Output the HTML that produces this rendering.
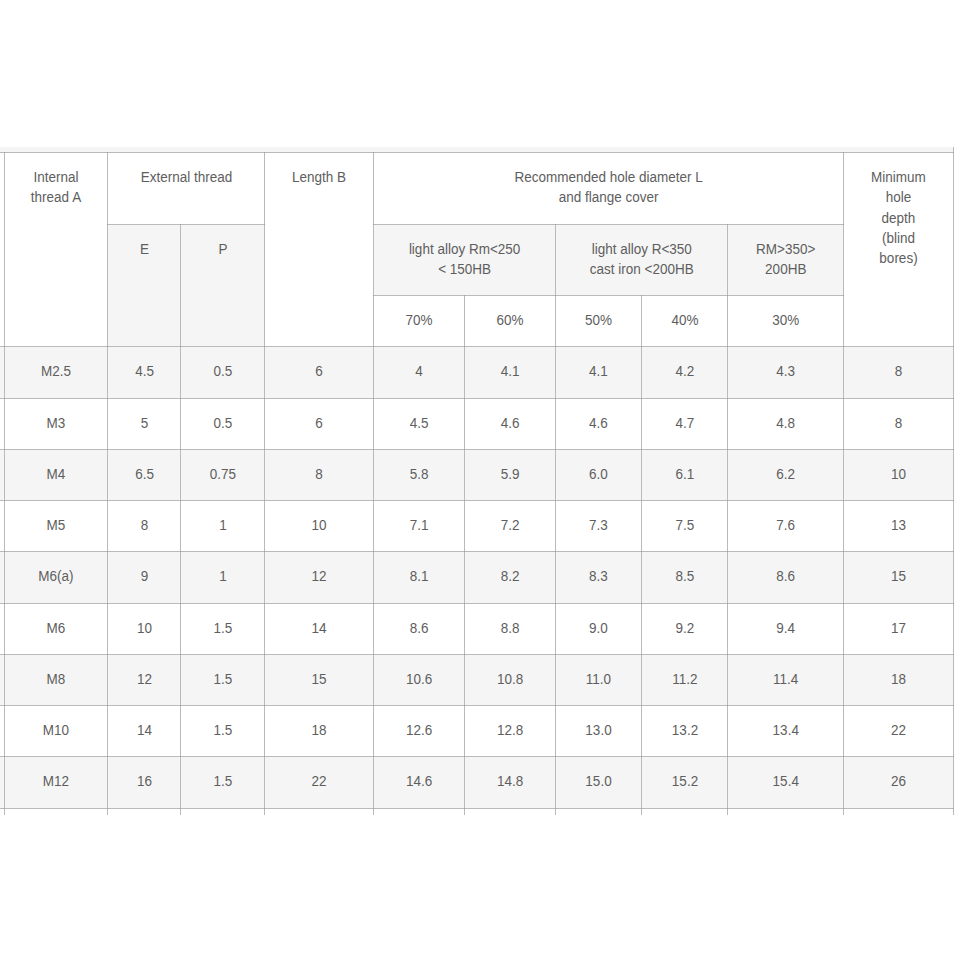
<!DOCTYPE html>
<html><head><meta charset="utf-8"><title>Thread insert dimensions</title>
<style>
html,body{margin:0;padding:0;background:#fff;}
body{width:962px;height:962px;overflow:hidden;position:relative;font-family:"Liberation Sans",sans-serif;font-size:13.5px;line-height:20.25px;color:#5e5e5e;}
.b{position:absolute;}
.h{position:absolute;height:1px;background:rgba(151,151,151,0.662);}
.v{position:absolute;width:1px;background:rgba(151,151,151,0.662);}
.t{position:absolute;text-align:center;white-space:nowrap;line-height:20px;height:20px;transform:scaleY(1.035);transform-origin:0 14px;}
</style></head><body>

<div class="b" style="left:0;top:147px;width:953px;height:5px;background:#f5f5f5"></div>
<div class="b" style="left:108px;top:225px;width:72px;height:121px;background:#f5f5f5"></div>
<div class="b" style="left:181px;top:225px;width:83px;height:121px;background:#f5f5f5"></div>
<div class="b" style="left:374px;top:225px;width:181px;height:70px;background:#f5f5f5"></div>
<div class="b" style="left:556px;top:225px;width:171px;height:70px;background:#f5f5f5"></div>
<div class="b" style="left:728px;top:225px;width:115px;height:70px;background:#f5f5f5"></div>
<div class="b" style="left:5px;top:347px;width:102px;height:51px;background:#f5f5f5"></div>
<div class="b" style="left:108px;top:347px;width:72px;height:51px;background:#f5f5f5"></div>
<div class="b" style="left:181px;top:347px;width:83px;height:51px;background:#f5f5f5"></div>
<div class="b" style="left:265px;top:347px;width:108px;height:51px;background:#f5f5f5"></div>
<div class="b" style="left:374px;top:347px;width:90px;height:51px;background:#f5f5f5"></div>
<div class="b" style="left:465px;top:347px;width:90px;height:51px;background:#f5f5f5"></div>
<div class="b" style="left:556px;top:347px;width:85px;height:51px;background:#f5f5f5"></div>
<div class="b" style="left:642px;top:347px;width:85px;height:51px;background:#f5f5f5"></div>
<div class="b" style="left:728px;top:347px;width:115px;height:51px;background:#f5f5f5"></div>
<div class="b" style="left:844px;top:347px;width:109px;height:51px;background:#f5f5f5"></div>
<div class="b" style="left:5px;top:450px;width:102px;height:50px;background:#f5f5f5"></div>
<div class="b" style="left:108px;top:450px;width:72px;height:50px;background:#f5f5f5"></div>
<div class="b" style="left:181px;top:450px;width:83px;height:50px;background:#f5f5f5"></div>
<div class="b" style="left:265px;top:450px;width:108px;height:50px;background:#f5f5f5"></div>
<div class="b" style="left:374px;top:450px;width:90px;height:50px;background:#f5f5f5"></div>
<div class="b" style="left:465px;top:450px;width:90px;height:50px;background:#f5f5f5"></div>
<div class="b" style="left:556px;top:450px;width:85px;height:50px;background:#f5f5f5"></div>
<div class="b" style="left:642px;top:450px;width:85px;height:50px;background:#f5f5f5"></div>
<div class="b" style="left:728px;top:450px;width:115px;height:50px;background:#f5f5f5"></div>
<div class="b" style="left:844px;top:450px;width:109px;height:50px;background:#f5f5f5"></div>
<div class="b" style="left:5px;top:552px;width:102px;height:51px;background:#f5f5f5"></div>
<div class="b" style="left:108px;top:552px;width:72px;height:51px;background:#f5f5f5"></div>
<div class="b" style="left:181px;top:552px;width:83px;height:51px;background:#f5f5f5"></div>
<div class="b" style="left:265px;top:552px;width:108px;height:51px;background:#f5f5f5"></div>
<div class="b" style="left:374px;top:552px;width:90px;height:51px;background:#f5f5f5"></div>
<div class="b" style="left:465px;top:552px;width:90px;height:51px;background:#f5f5f5"></div>
<div class="b" style="left:556px;top:552px;width:85px;height:51px;background:#f5f5f5"></div>
<div class="b" style="left:642px;top:552px;width:85px;height:51px;background:#f5f5f5"></div>
<div class="b" style="left:728px;top:552px;width:115px;height:51px;background:#f5f5f5"></div>
<div class="b" style="left:844px;top:552px;width:109px;height:51px;background:#f5f5f5"></div>
<div class="b" style="left:5px;top:655px;width:102px;height:50px;background:#f5f5f5"></div>
<div class="b" style="left:108px;top:655px;width:72px;height:50px;background:#f5f5f5"></div>
<div class="b" style="left:181px;top:655px;width:83px;height:50px;background:#f5f5f5"></div>
<div class="b" style="left:265px;top:655px;width:108px;height:50px;background:#f5f5f5"></div>
<div class="b" style="left:374px;top:655px;width:90px;height:50px;background:#f5f5f5"></div>
<div class="b" style="left:465px;top:655px;width:90px;height:50px;background:#f5f5f5"></div>
<div class="b" style="left:556px;top:655px;width:85px;height:50px;background:#f5f5f5"></div>
<div class="b" style="left:642px;top:655px;width:85px;height:50px;background:#f5f5f5"></div>
<div class="b" style="left:728px;top:655px;width:115px;height:50px;background:#f5f5f5"></div>
<div class="b" style="left:844px;top:655px;width:109px;height:50px;background:#f5f5f5"></div>
<div class="b" style="left:5px;top:757px;width:102px;height:51px;background:#f5f5f5"></div>
<div class="b" style="left:108px;top:757px;width:72px;height:51px;background:#f5f5f5"></div>
<div class="b" style="left:181px;top:757px;width:83px;height:51px;background:#f5f5f5"></div>
<div class="b" style="left:265px;top:757px;width:108px;height:51px;background:#f5f5f5"></div>
<div class="b" style="left:374px;top:757px;width:90px;height:51px;background:#f5f5f5"></div>
<div class="b" style="left:465px;top:757px;width:90px;height:51px;background:#f5f5f5"></div>
<div class="b" style="left:556px;top:757px;width:85px;height:51px;background:#f5f5f5"></div>
<div class="b" style="left:642px;top:757px;width:85px;height:51px;background:#f5f5f5"></div>
<div class="b" style="left:728px;top:757px;width:115px;height:51px;background:#f5f5f5"></div>
<div class="b" style="left:844px;top:757px;width:109px;height:51px;background:#f5f5f5"></div>
<div class="b" style="left:0;top:347px;width:4px;height:51px;background:#f5f5f5"></div>
<div class="b" style="left:0;top:450px;width:4px;height:50px;background:#f5f5f5"></div>
<div class="b" style="left:0;top:552px;width:4px;height:51px;background:#f5f5f5"></div>
<div class="b" style="left:0;top:655px;width:4px;height:50px;background:#f5f5f5"></div>
<div class="b" style="left:0;top:757px;width:4px;height:51px;background:#f5f5f5"></div>
<div class="h" style="left:0px;top:152px;width:954px"></div>
<div class="h" style="left:107px;top:224px;width:158px"></div>
<div class="h" style="left:373px;top:224px;width:471px"></div>
<div class="h" style="left:373px;top:295px;width:471px"></div>
<div class="h" style="left:0px;top:346px;width:954px"></div>
<div class="h" style="left:0px;top:398px;width:954px"></div>
<div class="h" style="left:0px;top:449px;width:954px"></div>
<div class="h" style="left:0px;top:500px;width:954px"></div>
<div class="h" style="left:0px;top:551px;width:954px"></div>
<div class="h" style="left:0px;top:603px;width:954px"></div>
<div class="h" style="left:0px;top:654px;width:954px"></div>
<div class="h" style="left:0px;top:705px;width:954px"></div>
<div class="h" style="left:0px;top:756px;width:954px"></div>
<div class="h" style="left:0px;top:808px;width:954px"></div>
<div class="v" style="left:4px;top:152px;height:663px"></div>
<div class="v" style="left:107px;top:152px;height:663px"></div>
<div class="v" style="left:180px;top:224px;height:591px"></div>
<div class="v" style="left:264px;top:152px;height:663px"></div>
<div class="v" style="left:373px;top:152px;height:663px"></div>
<div class="v" style="left:464px;top:295px;height:520px"></div>
<div class="v" style="left:555px;top:224px;height:591px"></div>
<div class="v" style="left:641px;top:295px;height:520px"></div>
<div class="v" style="left:727px;top:224px;height:591px"></div>
<div class="v" style="left:843px;top:152px;height:663px"></div>
<div class="v" style="left:953px;top:147px;height:668px"></div>
<div class="t" style="left:5px;top:168px;width:102px">Internal</div>
<div class="t" style="left:5px;top:188px;width:102px">thread A</div>
<div class="t" style="left:108.5px;top:168px;width:156px">External thread</div>
<div class="t" style="left:265px;top:168px;width:108px">Length B</div>
<div class="t" style="left:374.19px;top:168px;width:469px">Recommended hole diameter L</div>
<div class="t" style="left:374.19px;top:188px;width:469px">and flange cover</div>
<div class="t" style="left:844px;top:168px;width:109px">Minimum</div>
<div class="t" style="left:844px;top:188px;width:109px">hole</div>
<div class="t" style="left:844px;top:209px;width:109px">depth</div>
<div class="t" style="left:844px;top:229px;width:109px">(blind</div>
<div class="t" style="left:844px;top:249px;width:109px">bores)</div>
<div class="t" style="left:108.6px;top:240px;width:72px">E</div>
<div class="t" style="left:181.4px;top:240px;width:83px">P</div>
<div class="t" style="left:374.1px;top:240px;width:181px">light alloy Rm&lt;250</div>
<div class="t" style="left:374.1px;top:260px;width:181px">&lt; 150HB</div>
<div class="t" style="left:556.25px;top:240px;width:171px">light alloy R&lt;350</div>
<div class="t" style="left:556.25px;top:260px;width:171px">cast iron &lt;200HB</div>
<div class="t" style="left:728.25px;top:240px;width:115px">RM&gt;350&gt;</div>
<div class="t" style="left:728.25px;top:260px;width:115px">200HB</div>
<div class="t" style="left:374.1px;top:311px;width:90px">70%</div>
<div class="t" style="left:465.1px;top:311px;width:90px">60%</div>
<div class="t" style="left:556px;top:311px;width:85px">50%</div>
<div class="t" style="left:642.5px;top:311px;width:85px">40%</div>
<div class="t" style="left:728.25px;top:311px;width:115px">30%</div>
<div class="t" style="left:5px;top:362px;width:102px">M2.5</div>
<div class="t" style="left:108.6px;top:362px;width:72px">4.5</div>
<div class="t" style="left:181.4px;top:362px;width:83px">0.5</div>
<div class="t" style="left:265px;top:362px;width:108px">6</div>
<div class="t" style="left:374.1px;top:362px;width:90px">4</div>
<div class="t" style="left:465.1px;top:362px;width:90px">4.1</div>
<div class="t" style="left:556px;top:362px;width:85px">4.1</div>
<div class="t" style="left:642.5px;top:362px;width:85px">4.2</div>
<div class="t" style="left:728.25px;top:362px;width:115px">4.3</div>
<div class="t" style="left:844px;top:362px;width:109px">8</div>
<div class="t" style="left:5px;top:414px;width:102px">M3</div>
<div class="t" style="left:108.6px;top:414px;width:72px">5</div>
<div class="t" style="left:181.4px;top:414px;width:83px">0.5</div>
<div class="t" style="left:265px;top:414px;width:108px">6</div>
<div class="t" style="left:374.1px;top:414px;width:90px">4.5</div>
<div class="t" style="left:465.1px;top:414px;width:90px">4.6</div>
<div class="t" style="left:556px;top:414px;width:85px">4.6</div>
<div class="t" style="left:642.5px;top:414px;width:85px">4.7</div>
<div class="t" style="left:728.25px;top:414px;width:115px">4.8</div>
<div class="t" style="left:844px;top:414px;width:109px">8</div>
<div class="t" style="left:5px;top:465px;width:102px">M4</div>
<div class="t" style="left:108.6px;top:465px;width:72px">6.5</div>
<div class="t" style="left:181.4px;top:465px;width:83px">0.75</div>
<div class="t" style="left:265px;top:465px;width:108px">8</div>
<div class="t" style="left:374.1px;top:465px;width:90px">5.8</div>
<div class="t" style="left:465.1px;top:465px;width:90px">5.9</div>
<div class="t" style="left:556px;top:465px;width:85px">6.0</div>
<div class="t" style="left:642.5px;top:465px;width:85px">6.1</div>
<div class="t" style="left:728.25px;top:465px;width:115px">6.2</div>
<div class="t" style="left:844px;top:465px;width:109px">10</div>
<div class="t" style="left:5px;top:516px;width:102px">M5</div>
<div class="t" style="left:108.6px;top:516px;width:72px">8</div>
<div class="t" style="left:181.4px;top:516px;width:83px">1</div>
<div class="t" style="left:265px;top:516px;width:108px">10</div>
<div class="t" style="left:374.1px;top:516px;width:90px">7.1</div>
<div class="t" style="left:465.1px;top:516px;width:90px">7.2</div>
<div class="t" style="left:556px;top:516px;width:85px">7.3</div>
<div class="t" style="left:642.5px;top:516px;width:85px">7.5</div>
<div class="t" style="left:728.25px;top:516px;width:115px">7.6</div>
<div class="t" style="left:844px;top:516px;width:109px">13</div>
<div class="t" style="left:5px;top:567px;width:102px">M6(a)</div>
<div class="t" style="left:108.6px;top:567px;width:72px">9</div>
<div class="t" style="left:181.4px;top:567px;width:83px">1</div>
<div class="t" style="left:265px;top:567px;width:108px">12</div>
<div class="t" style="left:374.1px;top:567px;width:90px">8.1</div>
<div class="t" style="left:465.1px;top:567px;width:90px">8.2</div>
<div class="t" style="left:556px;top:567px;width:85px">8.3</div>
<div class="t" style="left:642.5px;top:567px;width:85px">8.5</div>
<div class="t" style="left:728.25px;top:567px;width:115px">8.6</div>
<div class="t" style="left:844px;top:567px;width:109px">15</div>
<div class="t" style="left:5px;top:619px;width:102px">M6</div>
<div class="t" style="left:108.6px;top:619px;width:72px">10</div>
<div class="t" style="left:181.4px;top:619px;width:83px">1.5</div>
<div class="t" style="left:265px;top:619px;width:108px">14</div>
<div class="t" style="left:374.1px;top:619px;width:90px">8.6</div>
<div class="t" style="left:465.1px;top:619px;width:90px">8.8</div>
<div class="t" style="left:556px;top:619px;width:85px">9.0</div>
<div class="t" style="left:642.5px;top:619px;width:85px">9.2</div>
<div class="t" style="left:728.25px;top:619px;width:115px">9.4</div>
<div class="t" style="left:844px;top:619px;width:109px">17</div>
<div class="t" style="left:5px;top:670px;width:102px">M8</div>
<div class="t" style="left:108.6px;top:670px;width:72px">12</div>
<div class="t" style="left:181.4px;top:670px;width:83px">1.5</div>
<div class="t" style="left:265px;top:670px;width:108px">15</div>
<div class="t" style="left:374.1px;top:670px;width:90px">10.6</div>
<div class="t" style="left:465.1px;top:670px;width:90px">10.8</div>
<div class="t" style="left:556px;top:670px;width:85px">11.0</div>
<div class="t" style="left:642.5px;top:670px;width:85px">11.2</div>
<div class="t" style="left:728.25px;top:670px;width:115px">11.4</div>
<div class="t" style="left:844px;top:670px;width:109px">18</div>
<div class="t" style="left:5px;top:721px;width:102px">M10</div>
<div class="t" style="left:108.6px;top:721px;width:72px">14</div>
<div class="t" style="left:181.4px;top:721px;width:83px">1.5</div>
<div class="t" style="left:265px;top:721px;width:108px">18</div>
<div class="t" style="left:374.1px;top:721px;width:90px">12.6</div>
<div class="t" style="left:465.1px;top:721px;width:90px">12.8</div>
<div class="t" style="left:556px;top:721px;width:85px">13.0</div>
<div class="t" style="left:642.5px;top:721px;width:85px">13.2</div>
<div class="t" style="left:728.25px;top:721px;width:115px">13.4</div>
<div class="t" style="left:844px;top:721px;width:109px">22</div>
<div class="t" style="left:5px;top:772px;width:102px">M12</div>
<div class="t" style="left:108.6px;top:772px;width:72px">16</div>
<div class="t" style="left:181.4px;top:772px;width:83px">1.5</div>
<div class="t" style="left:265px;top:772px;width:108px">22</div>
<div class="t" style="left:374.1px;top:772px;width:90px">14.6</div>
<div class="t" style="left:465.1px;top:772px;width:90px">14.8</div>
<div class="t" style="left:556px;top:772px;width:85px">15.0</div>
<div class="t" style="left:642.5px;top:772px;width:85px">15.2</div>
<div class="t" style="left:728.25px;top:772px;width:115px">15.4</div>
<div class="t" style="left:844px;top:772px;width:109px">26</div>
</body></html>
